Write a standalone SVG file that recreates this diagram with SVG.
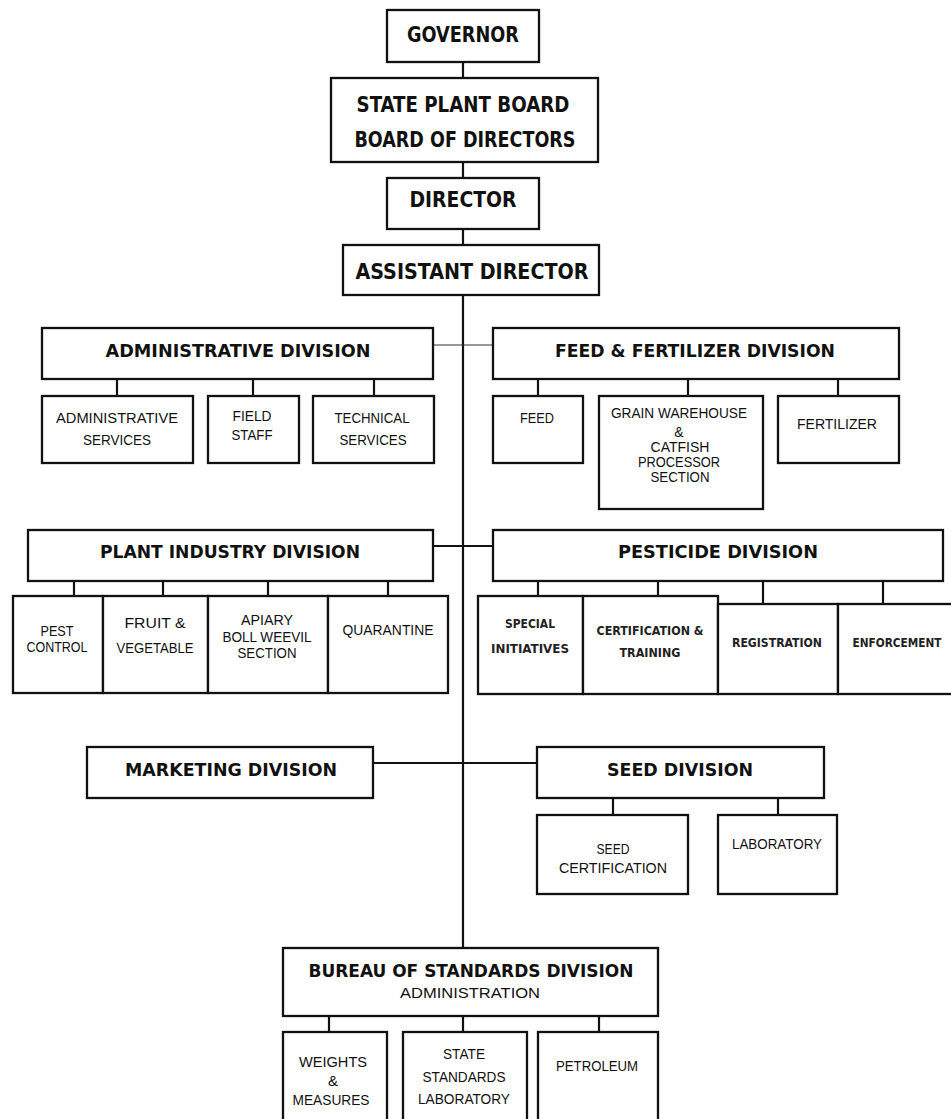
<svg xmlns="http://www.w3.org/2000/svg" width="951" height="1119" viewBox="0 0 951 1119">
<style>
rect{fill:#fff;stroke:#111;stroke-width:2.3}
.c line{stroke:#111;stroke-width:2.2}
.c line.thin{stroke:#333;stroke-width:1.2}
text{fill:#111;text-anchor:middle}
.h{font-family:"DejaVu Sans Condensed","DejaVu Sans",sans-serif;font-stretch:condensed;font-weight:bold;font-size:20.5px}
.d{font-family:"DejaVu Sans Condensed","DejaVu Sans",sans-serif;font-stretch:condensed;font-weight:bold;font-size:18px}
.s{font-family:"Liberation Sans",Arial,sans-serif;font-size:14px}
.b{font-family:"DejaVu Sans Condensed","DejaVu Sans",sans-serif;font-stretch:condensed;font-weight:bold;font-size:12.5px;fill:#222}
.m{font-family:"Liberation Sans",Arial,sans-serif;font-size:15px}
</style>
<rect x="0" y="0" width="951" height="1119" style="stroke:none"/>
<g class="c" id="connectors">
<line x1="463" y1="62" x2="463" y2="78"/>
<line x1="463" y1="162" x2="463" y2="178"/>
<line x1="463" y1="229" x2="463" y2="245"/>
<line x1="463" y1="295" x2="463" y2="948"/>
<line class="thin" x1="433" y1="345" x2="493" y2="345"/>
<line x1="117" y1="379" x2="117" y2="396"/>
<line x1="253" y1="379" x2="253" y2="396"/>
<line x1="374" y1="379" x2="374" y2="396"/>
<line x1="538" y1="379" x2="538" y2="396"/>
<line x1="688" y1="379" x2="688" y2="396"/>
<line x1="838" y1="379" x2="838" y2="396"/>
<line x1="433" y1="546" x2="493" y2="546"/>
<line x1="74" y1="581" x2="74" y2="596"/>
<line x1="163" y1="581" x2="163" y2="596"/>
<line x1="268" y1="581" x2="268" y2="596"/>
<line x1="388" y1="581" x2="388" y2="596"/>
<line x1="538" y1="581" x2="538" y2="596"/>
<line x1="658" y1="581" x2="658" y2="596"/>
<line x1="763" y1="581" x2="763" y2="604"/>
<line x1="883" y1="581" x2="883" y2="604"/>
<line x1="373" y1="763" x2="537" y2="763"/>
<line x1="613" y1="798" x2="613" y2="815"/>
<line x1="778" y1="798" x2="778" y2="815"/>
<line x1="329" y1="1016" x2="329" y2="1032"/>
<line x1="463" y1="1016" x2="463" y2="1032"/>
<line x1="599" y1="1016" x2="599" y2="1032"/>
</g>
<g id="governor"><rect x="387" y="10" width="152" height="52"/><text class="h" x="463" y="42" textLength="112" lengthAdjust="spacingAndGlyphs">GOVERNOR</text></g>
<g id="state-plant-board"><rect x="331" y="78" width="267" height="84"/><text class="h" x="463" y="112" textLength="213" lengthAdjust="spacingAndGlyphs">STATE PLANT BOARD</text><text class="h" x="465" y="147" textLength="221" lengthAdjust="spacingAndGlyphs">BOARD OF DIRECTORS</text></g>
<g id="director"><rect x="387" y="178" width="152" height="51"/><text class="h" x="463" y="207" textLength="107" lengthAdjust="spacingAndGlyphs">DIRECTOR</text></g>
<g id="assistant-director"><rect x="343" y="245" width="256" height="50"/><text class="h" x="472" y="279" textLength="233" lengthAdjust="spacingAndGlyphs">ASSISTANT DIRECTOR</text></g>

<g id="administrative-division"><rect x="42" y="328" width="391" height="51"/><text class="d" x="238" y="357" textLength="265" lengthAdjust="spacingAndGlyphs">ADMINISTRATIVE DIVISION</text></g>
<g id="administrative-services"><rect x="42" y="396" width="151" height="67"/><text class="s" x="117" y="423" textLength="122" lengthAdjust="spacingAndGlyphs">ADMINISTRATIVE</text><text class="s" x="117" y="445" textLength="68" lengthAdjust="spacingAndGlyphs">SERVICES</text></g>
<g id="field-staff"><rect x="208" y="396" width="91" height="67"/><text class="s" x="252" y="421" textLength="39" lengthAdjust="spacingAndGlyphs">FIELD</text><text class="s" x="252" y="440" textLength="41" lengthAdjust="spacingAndGlyphs">STAFF</text></g>
<g id="technical-services"><rect x="313" y="396" width="121" height="67"/><text class="s" x="372" y="423" textLength="75" lengthAdjust="spacingAndGlyphs">TECHNICAL</text><text class="s" x="373" y="445" textLength="67" lengthAdjust="spacingAndGlyphs">SERVICES</text></g>

<g id="feed-fertilizer-division"><rect x="493" y="328" width="406" height="51"/><text class="d" x="695" y="357" textLength="280" lengthAdjust="spacingAndGlyphs">FEED &amp; FERTILIZER DIVISION</text></g>
<g id="feed"><rect x="493" y="396" width="90" height="67"/><text class="s" x="537" y="423" textLength="34" lengthAdjust="spacingAndGlyphs">FEED</text></g>
<g id="grain-warehouse"><rect x="599" y="396" width="164" height="113"/><text class="s" x="679" y="418" textLength="136" lengthAdjust="spacingAndGlyphs">GRAIN WAREHOUSE</text><text class="s" x="679" y="437">&amp;</text><text class="s" x="680" y="452" textLength="59" lengthAdjust="spacingAndGlyphs">CATFISH</text><text class="s" x="679" y="467" textLength="82" lengthAdjust="spacingAndGlyphs">PROCESSOR</text><text class="s" x="680" y="482" textLength="59" lengthAdjust="spacingAndGlyphs">SECTION</text></g>
<g id="fertilizer"><rect x="778" y="396" width="121" height="67"/><text class="s" x="837" y="429" textLength="80" lengthAdjust="spacingAndGlyphs">FERTILIZER</text></g>

<g id="plant-industry-division"><rect x="28" y="530" width="405" height="51"/><text class="d" x="230" y="558" textLength="260" lengthAdjust="spacingAndGlyphs">PLANT INDUSTRY DIVISION</text></g>
<g id="pest-control"><rect x="13" y="596" width="90" height="97"/><text class="s" x="57" y="636" textLength="33" lengthAdjust="spacingAndGlyphs">PEST</text><text class="s" x="57" y="652" textLength="61" lengthAdjust="spacingAndGlyphs">CONTROL</text></g>
<g id="fruit-vegetable"><rect x="103" y="596" width="105" height="97"/><text class="s" x="155" y="628" textLength="61" lengthAdjust="spacingAndGlyphs">FRUIT &amp;</text><text class="s" x="155" y="653" textLength="77" lengthAdjust="spacingAndGlyphs">VEGETABLE</text></g>
<g id="apiary"><rect x="208" y="596" width="120" height="97"/><text class="s" x="267" y="625" textLength="52" lengthAdjust="spacingAndGlyphs">APIARY</text><text class="s" x="267" y="642" textLength="89" lengthAdjust="spacingAndGlyphs">BOLL WEEVIL</text><text class="s" x="267" y="658" textLength="59" lengthAdjust="spacingAndGlyphs">SECTION</text></g>
<g id="quarantine"><rect x="328" y="596" width="120" height="97"/><text class="s" x="388" y="635" textLength="91" lengthAdjust="spacingAndGlyphs">QUARANTINE</text></g>

<g id="pesticide-division"><rect x="493" y="530" width="450" height="51"/><text class="d" x="718" y="558" textLength="200" lengthAdjust="spacingAndGlyphs">PESTICIDE DIVISION</text></g>
<g id="special-initiatives"><rect x="478" y="596" width="105" height="98"/><text class="b" x="530" y="628" textLength="50" lengthAdjust="spacingAndGlyphs">SPECIAL</text><text class="b" x="530" y="653" textLength="78" lengthAdjust="spacingAndGlyphs">INITIATIVES</text></g>
<g id="certification-training"><rect x="583" y="596" width="135" height="98"/><text class="b" x="650" y="635" textLength="107" lengthAdjust="spacingAndGlyphs">CERTIFICATION &amp;</text><text class="b" x="650" y="657" textLength="61" lengthAdjust="spacingAndGlyphs">TRAINING</text></g>
<g id="registration"><rect x="718" y="604" width="120" height="90"/><text class="b" x="777" y="647" textLength="90" lengthAdjust="spacingAndGlyphs">REGISTRATION</text></g>
<g id="enforcement"><rect x="838" y="604" width="125" height="90"/><text class="b" x="897" y="647" textLength="89" lengthAdjust="spacingAndGlyphs">ENFORCEMENT</text></g>

<g id="marketing-division"><rect x="87" y="747" width="286" height="51"/><text class="d" x="231" y="776" textLength="212" lengthAdjust="spacingAndGlyphs">MARKETING DIVISION</text></g>
<g id="seed-division"><rect x="537" y="747" width="287" height="51"/><text class="d" x="680" y="776" textLength="146" lengthAdjust="spacingAndGlyphs">SEED DIVISION</text></g>
<g id="seed-certification"><rect x="537" y="815" width="151" height="79"/><text class="s" x="613" y="854" textLength="33" lengthAdjust="spacingAndGlyphs">SEED</text><text class="s" x="613" y="873" textLength="108" lengthAdjust="spacingAndGlyphs">CERTIFICATION</text></g>
<g id="seed-laboratory"><rect x="718" y="815" width="119" height="79"/><text class="s" x="777" y="849" textLength="90" lengthAdjust="spacingAndGlyphs">LABORATORY</text></g>

<g id="bureau-of-standards"><rect x="283" y="948" width="375" height="68"/><text class="d" x="471" y="977" textLength="325" lengthAdjust="spacingAndGlyphs">BUREAU OF STANDARDS DIVISION</text><text class="m" x="470" y="998" textLength="140" lengthAdjust="spacingAndGlyphs">ADMINISTRATION</text></g>
<g id="weights-measures"><rect x="283" y="1032" width="104" height="100"/><text class="m" x="333" y="1067" textLength="68" lengthAdjust="spacingAndGlyphs">WEIGHTS</text><text class="m" x="333" y="1086">&amp;</text><text class="m" x="331" y="1105" textLength="77" lengthAdjust="spacingAndGlyphs">MEASURES</text></g>
<g id="state-standards-laboratory"><rect x="403" y="1032" width="124" height="100"/><text class="s" x="464" y="1059" textLength="42" lengthAdjust="spacingAndGlyphs">STATE</text><text class="s" x="464" y="1082" textLength="83" lengthAdjust="spacingAndGlyphs">STANDARDS</text><text class="s" x="464" y="1104" textLength="92" lengthAdjust="spacingAndGlyphs">LABORATORY</text></g>
<g id="petroleum"><rect x="538" y="1032" width="120" height="100"/><text class="s" x="597" y="1071" textLength="82" lengthAdjust="spacingAndGlyphs">PETROLEUM</text></g>
</svg>
